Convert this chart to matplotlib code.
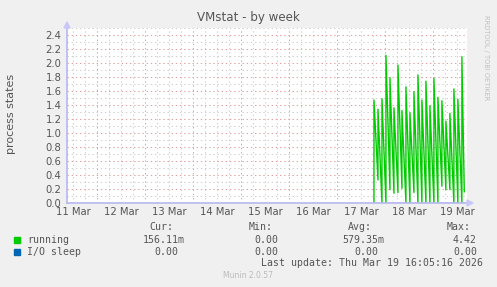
import numpy as np
import matplotlib
matplotlib.use("Agg")
import matplotlib.pyplot as plt
from matplotlib.patches import Rectangle

# x values are days since 11 Mar 00:00
day_labels = ["11 Mar", "12 Mar", "13 Mar", "14 Mar", "15 Mar",
              "16 Mar", "17 Mar", "18 Mar", "19 Mar"]
y_ticks = [0.0, 0.2, 0.4, 0.6, 0.8, 1.0, 1.2, 1.4, 1.6, 1.8, 2.0, 2.2, 2.4]

# running: one spike every 2 hours, starting 17 Mar ~18:30
spike_start = 6.77
spike_step = 2 / 24
peak_vals = [1.47, 1.34, 1.49, 2.11, 1.79, 1.36, 1.97, 1.32, 1.66, 1.29, 1.59,
             1.83, 1.47, 1.74, 1.39, 1.78, 1.51, 1.46, 1.17, 1.28, 1.63, 1.48, 2.09]
trough_vals = [0.33, 0.00, 0.00, 0.19, 0.14, 0.15, 0.21, 0.00, 0.00, 0.15, 0.00,
               0.00, 0.00, 0.00, 0.00, 0.00, 0.24, 0.19, 0.19, 0.00, 0.00, 0.00, 0.16]
io_sleep_vals = [0.0, 0.0]

legend_rows = [
    ("running", "#00CC00", ["156.11m", "0.00", "579.35m", "4.42"]),
    ("I/O sleep", "#0066B3", ["0.00", "0.00", "0.00", "0.00"]),
]

W, H = 497, 287
fig = plt.figure(figsize=(W / 100, H / 100), dpi=100, facecolor="#F0F0F0")

def fx(px):
    return px / W

def fy(py):
    return 1 - py / H

ax = fig.add_axes([fx(67), fy(203), fx(400), 175 / H])
ax.set_facecolor("white")
x0, x1 = 0.368, 8.71
ax.set_xlim(x0, x1)
ax.set_ylim(0, 2.5)

# grid: gray every 6h / 0.1, red every day / 0.2
grid_kw = dict(lw=0.75, ls=(0, (1.3, 2.7)), zorder=1)
for q in np.arange(0.25, 9, 0.25):
    if x0 < q < x1:
        c = "#E0A0A0" if abs(q - round(q)) < 1e-6 else "#CFCFCF"
        ax.axvline(q, color=c, **grid_kw)
for v in np.arange(0.1, 2.55, 0.1):
    c = "#E0A0A0" if abs(v / 0.2 - round(v / 0.2)) < 1e-6 else "#CFCFCF"
    ax.axhline(v, color=c, **grid_kw)

# build the running line: vertical rise, then decay to trough
xs, ys = [], []
prev = 0.0
for i, (p, t) in enumerate(zip(peak_vals, trough_vals)):
    tx = spike_start + i * spike_step
    xs += [tx, tx]
    ys += [prev, p]
    prev = t
xs.append(spike_start + (len(peak_vals) - 1) * spike_step + 0.05)
ys.append(trough_vals[-1])
ax.plot(xs, ys, color="#00CC00", lw=1.0, zorder=3)
ax.plot([spike_start, 8.67], io_sleep_vals, color="#0066B3", lw=1.0, zorder=2)

for s in ["top", "right"]:
    ax.spines[s].set_visible(False)
for s in ["left", "bottom"]:
    ax.spines[s].set_color("#B8B8F0")
    ax.spines[s].set_linewidth(1.2)
    ax.spines[s].set_zorder(4)

ax.set_yticks(y_ticks)
ax.set_yticklabels([f"{v:.1f}" for v in y_ticks])
ax.set_xticks([d + 0.5 for d in range(len(day_labels))])
ax.set_xticklabels(day_labels)
ax.tick_params(axis="both", length=0, labelsize=7.2, colors="#555555", pad=3)
ax.tick_params(axis="y", pad=4)

# axis arrows
fig.patches.append(plt.Polygon([(fx(64), fy(28)), (fx(70), fy(28)), (fx(67), fy(22))],
                               closed=True, color="#C8C8F8", transform=fig.transFigure))
fig.patches.append(plt.Polygon([(fx(467), fy(200)), (fx(467), fy(206)), (fx(473), fy(203))],
                               closed=True, color="#C8C8F8", transform=fig.transFigure))

fig.text(fx(248), fy(17), "VMstat - by week", ha="center", va="center",
         fontsize=8.6, color="#555555")
fig.text(fx(11.5), fy(114), "process states", ha="center", va="center",
         rotation=90, fontsize=8.0, color="#555555")
fig.text(fx(486), fy(58), "RRDTOOL / TOBI OETIKER", ha="center", va="center",
         rotation=270, fontsize=4.8, color="#C0C0C0")

mono = dict(family="DejaVu Sans Mono", fontsize=7.1, color="#555555", va="center")
for name, x in zip(["Cur:", "Min:", "Avg:", "Max:"], [149, 249, 348, 447]):
    fig.text(fx(x), fy(227), name, ha="left", **mono)

row_y = [240, 252]
val_right = [[185, 278, 384, 477], [178, 278, 378, 477]]
for (label, color, vals), y, rights in zip(legend_rows, row_y, val_right):
    fig.patches.append(Rectangle((fx(14), fy(y + 3)), fx(6), 6 / H,
                                 color=color, transform=fig.transFigure))
    fig.text(fx(27), fy(y), label, ha="left", **mono)
    for v, r in zip(vals, rights):
        fig.text(fx(r), fy(y), v, ha="right", **mono)

fig.text(fx(483), fy(263), "Last update: Thu Mar 19 16:05:16 2026", ha="right", **mono)
fig.text(fx(248), fy(276), "Munin 2.0.57", ha="center", va="center",
         fontsize=5.5, color="#BBBBBB")

fig.savefig("out.png", dpi=100, facecolor=fig.get_facecolor())
plt.close(fig)
